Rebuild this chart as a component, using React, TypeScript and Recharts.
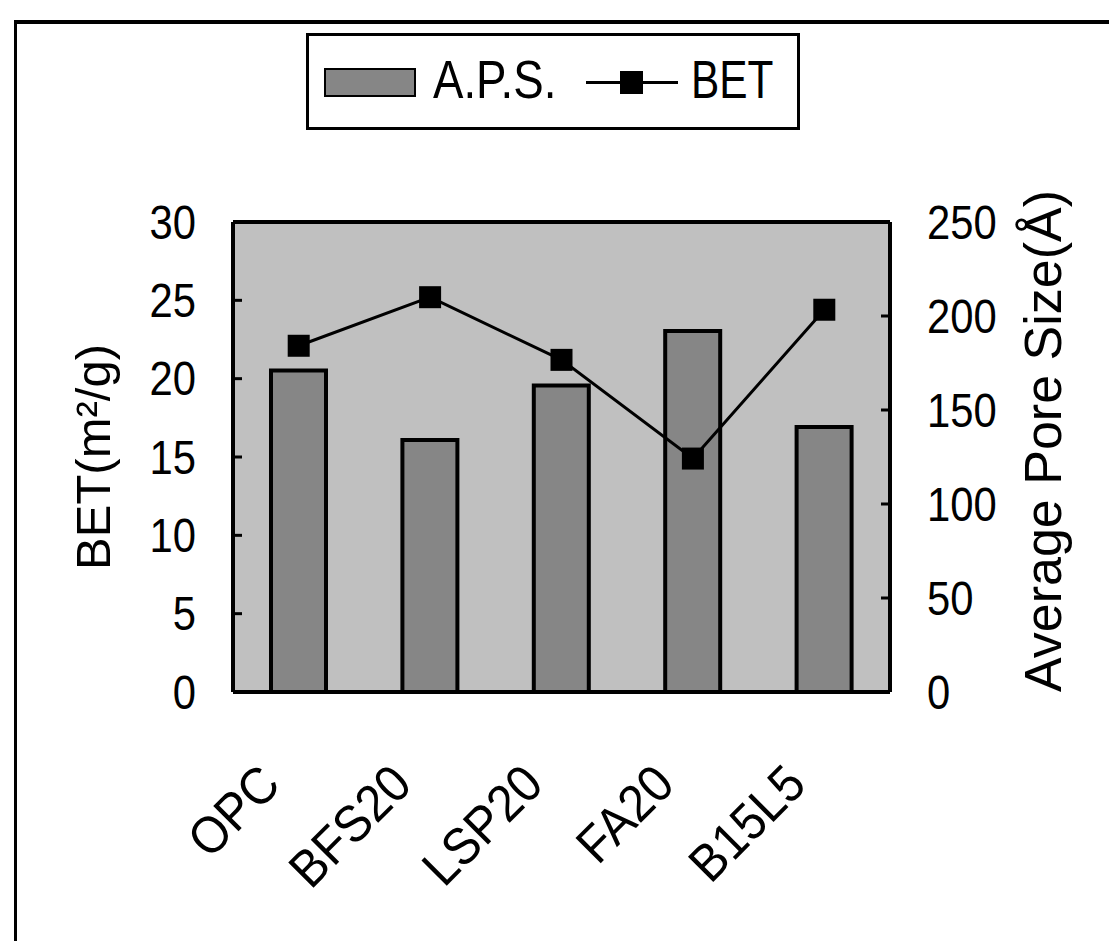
import React from "react";
import {
  Bar,
  CartesianGrid,
  ComposedChart,
  Line,
  ReferenceLine,
  XAxis,
  YAxis,
} from "recharts";

const mixes = ["OPC", "BFS20", "LSP20", "FA20", "B15L5"];
const poreSize = [171, 134, 163, 192, 141]; // A.P.S. (Å), right axis
const betArea = [22.1, 25.2, 21.2, 14.9, 24.4]; // BET (m²/g), left axis
const betTicks = [0, 5, 10, 15, 20, 25, 30];
const poreTicks = [0, 50, 100, 150, 200, 250];

const FONT = "'Liberation Sans', Arial, sans-serif";
const NARROW = 0.87;

const data = mixes.map((mix, i) => ({ mix, aps: poreSize[i], bet: betArea[i] }));

const SquareDot = (props: any) => {
  const { cx, cy } = props;
  if (cx == null || cy == null) return null;
  return <rect x={cx - 11} y={cy - 11} width={22} height={22} fill="#000" />;
};

// narrow-looking numbers, like the original's condensed face
const NumTick = (props: any) => {
  const { x, y, payload, anchor } = props;
  return (
    <text
      transform={`translate(${x}, ${y}) scale(${NARROW}, 1)`}
      textAnchor={anchor}
      dominantBaseline="central"
      fontFamily={FONT}
      fontSize={48}
      fill="#000"
    >
      {payload.value}
    </text>
  );
};

const MixTick = (props: any) => {
  const { x, y, payload } = props;
  const px = x - 16;
  const py = y + 95;
  return (
    <text
      transform={`translate(${px}, ${py}) rotate(-45) scale(0.92, 1)`}
      textAnchor="end"
      fontFamily={FONT}
      fontSize={52}
      fill="#000"
    >
      {payload.value}
    </text>
  );
};

const LeftTitle = (props: any) => {
  const { x, y, height } = props.viewBox;
  const cx = x + 0;
  const cy = y + height / 2;
  return (
    <text
      transform={`translate(${cx}, ${cy}) rotate(-90)`}
      textAnchor="middle"
      dominantBaseline="central"
      fontFamily={FONT}
      fontSize={49}
      fill="#000"
    >
      BET(m²/g)
    </text>
  );
};

const RightTitle = (props: any) => {
  const { x, y, height } = props.viewBox;
  const cx = x + 153;
  const cy = y + height / 2 - 16;
  return (
    <text
      transform={`translate(${cx}, ${cy}) rotate(-90)`}
      textAnchor="middle"
      dominantBaseline="central"
      fontFamily={FONT}
      fontSize={52}
      fill="#000"
    >
      Average Pore Size(Å)
    </text>
  );
};

export default function App() {
  return (
    <div
      style={{
        position: "fixed",
        left: 0,
        top: 0,
        width: 1109,
        height: 941,
        background: "#fff",
        overflow: "hidden",
      }}
    >
      {/* figure frame */}
      <div
        style={{
          position: "absolute",
          left: 14,
          top: 20,
          width: 1200,
          height: 1000,
          borderTop: "4px solid #000",
          borderLeft: "3px solid #000",
        }}
      />

      <ComposedChart
        width={1109}
        height={941}
        data={data}
        margin={{ top: 222, right: 39, bottom: 49, left: 93 }}
      >
        <CartesianGrid horizontal={false} vertical={false} fill="#c0c0c0" />
        <XAxis
          dataKey="mix"
          height={200}
          tickLine={false}
          tickSize={0}
          tickMargin={0}
          axisLine={{ stroke: "#000", strokeWidth: 4 }}
          tick={<MixTick />}
          interval={0}
        />
        <YAxis
          yAxisId="left"
          orientation="left"
          width={140}
          domain={[0, 30]}
          ticks={betTicks}
          interval={0}
          tickSize={-9}
          tickMargin={46}
          tick={<NumTick anchor="end" />}
          tickLine={{ stroke: "#000", strokeWidth: 3 }}
          axisLine={{ stroke: "#000", strokeWidth: 4 }}
          label={{ content: LeftTitle }}
        />
        <YAxis
          yAxisId="right"
          orientation="right"
          width={180}
          domain={[0, 250]}
          ticks={poreTicks}
          interval={0}
          tickSize={-9}
          tickMargin={46}
          tick={<NumTick anchor="start" />}
          tickLine={{ stroke: "#000", strokeWidth: 3 }}
          axisLine={{ stroke: "#000", strokeWidth: 4 }}
          label={{ content: RightTitle }}
        />
        <ReferenceLine yAxisId="left" y={30} stroke="#000" strokeWidth={4} />
        <Bar
          yAxisId="right"
          dataKey="aps"
          name="A.P.S."
          fill="#868686"
          stroke="#000"
          strokeWidth={4}
          barSize={55}
          isAnimationActive={false}
        />
        <Line
          yAxisId="left"
          dataKey="bet"
          name="BET"
          type="linear"
          stroke="#000"
          strokeWidth={3}
          dot={<SquareDot />}
          activeDot={false}
          isAnimationActive={false}
        />
      </ComposedChart>

      {/* legend */}
      <div
        style={{
          position: "absolute",
          left: 306,
          top: 33,
          width: 488,
          height: 91,
          border: "3px solid #000",
          background: "#fff",
          fontFamily: FONT,
          fontSize: 53,
          color: "#000",
        }}
      >
        <div
          style={{
            position: "absolute",
            left: 15,
            top: 32,
            width: 92,
            height: 29,
            background: "#868686",
            border: "2px solid #000",
            boxSizing: "border-box",
          }}
        />
        <div
          style={{
            position: "absolute",
            left: 124,
            top: 14,
            lineHeight: "60px",
            transform: "scaleX(0.86)",
            transformOrigin: "left center",
          }}
        >
          A.P.S.
        </div>
        <div
          style={{
            position: "absolute",
            left: 277,
            top: 45,
            width: 92,
            height: 3,
            background: "#000",
          }}
        />
        <div
          style={{
            position: "absolute",
            left: 311,
            top: 35,
            width: 23,
            height: 23,
            background: "#000",
          }}
        />
        <div
          style={{
            position: "absolute",
            left: 382,
            top: 14,
            lineHeight: "60px",
            transform: "scaleX(0.8)",
            transformOrigin: "left center",
          }}
        >
          BET
        </div>
      </div>
    </div>
  );
}
